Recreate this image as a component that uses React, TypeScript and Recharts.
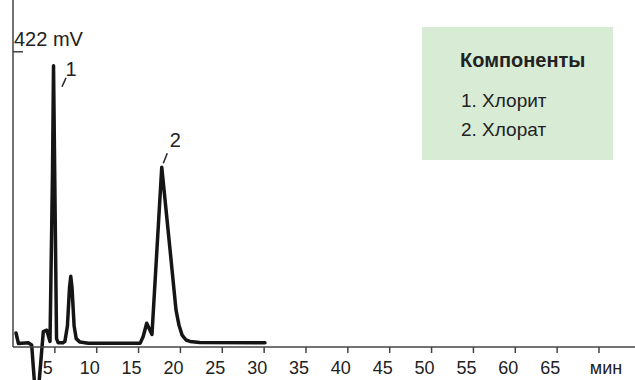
import React from "react"
import { Line, LineChart, ReferenceDot, XAxis, YAxis } from "recharts"

// retention time, min
const minutes = [
  0.36, 0.65, 1.83, 2.23, 2.54, 2.84, 3.14, 3.62, 4.03, 4.42, 4.72, 4.84, 4.98, 5.2, 5.4, 5.97, 6.2, 6.5, 6.75, 6.9,
  7.05, 7.3, 7.55, 8.0, 9.0, 15.2, 15.55, 15.97, 16.6, 17.77, 18.76, 19.47, 19.83, 20.2, 20.67, 21.15, 22.3, 30.1,
]
// detector signal, mV
const signal = [
  20, 5, 6, 3, -47, -96, -47, 22, 24, 8, 250, 402, 250, 12, 6, 6, 8, 30, 85, 101, 85, 30, 12, 7, 5.5, 5.5, 15, 34, 18,
  257, 139, 53, 31, 17, 10, 8, 6.5, 6,
]

const timeTicks = [5, 10, 15, 20, 25, 30, 35, 40, 45, 50, 55, 60, 65, 70]
const signalTicks = [422]

const peakNames = ["1", "2"]
const peakTimes = [4.84, 17.77]

const components = ["1. Хлорит", "2. Хлорат"]

const data = minutes.map((t, i) => ({ t, mv: signal[i] }))

const font = "'Liberation Sans', Arial, sans-serif"
const axisColor = "#444"

// where each peak number sits relative to the top of its peak
const tagOffsets = [
  { lx1: 8.5, ly1: 21, lx2: 12.5, ly2: 12, tx: 17.5, ty: 10 },
  { lx1: 1.5, ly1: -4, lx2: 5.5, ly2: -14, tx: 13.5, ty: -20 },
]

const TimeTick = (props: any) => {
  const { x, y, payload } = props
  const last = payload.value === 70
  return (
    <text
      x={x + (last ? 7 : -7)}
      y={y}
      dy={19}
      textAnchor="middle"
      fontFamily={font}
      fontSize={18}
      fill="#222"
    >
      {last ? "мин" : payload.value}
    </text>
  )
}

const SignalTick = (props: any) => {
  const { x, y, payload } = props
  return (
    <text x={x} y={y} dx={-9} dy={-6} textAnchor="start" fontFamily={font} fontSize={20} fill="#222">
      {payload.value} mV
    </text>
  )
}

const peakTag = (i: number) => (props: any) => {
  const { cx, cy } = props
  const o = tagOffsets[i]
  return (
    <g>
      <line x1={cx + o.lx1} y1={cy + o.ly1} x2={cx + o.lx2} y2={cy + o.ly2} stroke="#222" strokeWidth={1.5} />
      <text x={cx + o.tx} y={cy + o.ty} textAnchor="middle" fontFamily={font} fontSize={20} fill="#222">
        {peakNames[i]}
      </text>
    </g>
  )
}

export default function App() {
  return (
    <div style={{ position: "absolute", left: 0, top: 0, width: 635, height: 380, background: "#fff" }}>
      {/* the negative dip runs below the time axis, so the trace is not clipped */}
      <style>{`.recharts-line-curve, .recharts-line [clip-path] { clip-path: none !important; }`}</style>
      <LineChart width={635} height={380} data={data} margin={{ top: 0, right: 0, left: 13, bottom: 0 }}>
        <XAxis
          dataKey="t"
          type="number"
          domain={[0, 74.3]}
          allowDataOverflow
          ticks={timeTicks}
          height={33}
          stroke={axisColor}
          strokeWidth={1.5}
          tickSize={6}
          tick={<TimeTick />}
          interval={0}
        />
        <YAxis
          type="number"
          domain={[0, 496]}
          allowDataOverflow
          ticks={signalTicks}
          mirror
          tickSize={10}
          tickMargin={0}
          stroke={axisColor}
          strokeWidth={1.5}
          tick={<SignalTick />}
        />
        <Line
          type="linear"
          dataKey="mv"
          stroke="#151515"
          strokeWidth={3.5}
          strokeLinejoin="round"
          strokeLinecap="round"
          dot={false}
          activeDot={false}
          isAnimationActive={false}
        />
        {peakTimes.map((t, i) => (
          <ReferenceDot
            key={t}
            x={t}
            y={signal[minutes.indexOf(t)]}
            r={0}
            ifOverflow="visible"
            shape={peakTag(i)}
          />
        ))}
      </LineChart>
      <div
        style={{
          position: "absolute",
          left: 422,
          top: 27,
          width: 191,
          height: 133,
          background: "#d8ebd5",
          fontFamily: font,
          color: "#222",
        }}
      >
        <div style={{ position: "absolute", left: 38, top: 22, fontSize: 20, fontWeight: "bold" }}>Компоненты</div>
        {components.map((c, i) => (
          <div key={c} style={{ position: "absolute", left: 39, top: 63 + i * 29, fontSize: 19 }}>
            {c}
          </div>
        ))}
      </div>
    </div>
  )
}
